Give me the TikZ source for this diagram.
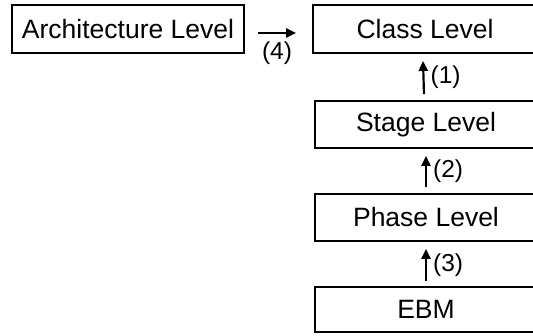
\documentclass[tikz,border=0pt]{standalone}
\usepackage{fontspec}
\setmainfont{Liberation Sans}
\usetikzlibrary{arrows.meta}
\begin{document}
\begin{tikzpicture}[x=1pt,y=-1pt,
  box/.style={draw, line width=1.8pt, rectangle, inner sep=0pt, font=\fontsize{26.5}{30}\selectfont},
  arr/.style={line width=2.2pt, -{Triangle[length=10pt,width=9pt]}},
  lab/.style={font=\fontsize{24.5}{28}\selectfont, inner sep=0pt}]
\useasboundingbox (0,0) rectangle (533,335);
\clip (0,0) rectangle (533,335);
\node[box, minimum width=232pt, minimum height=48pt] (arch) at (128,29) {Architecture Level};
\node[box, minimum width=224pt, minimum height=48pt] (class) at (425,29) {Class Level};
\node[box, minimum width=222pt, minimum height=47pt] (stage) at (426,124.5) {Stage Level};
\node[box, minimum width=222pt, minimum height=47pt] (phase) at (426,217.5) {Phase Level};
\node[box, minimum width=222pt, minimum height=45pt] (ebm) at (426,309.5) {EBM};
\draw[arr] ([xshift=13pt,yshift=-4pt]arch.east) -- node[lab, below=8pt] (l4) {(4)} ([xshift=-16pt,yshift=-4pt]class.west);
\draw[arr] ([xshift=-2pt,yshift=6pt]stage.north) -- node[lab, right=6pt] (l1) {(1)} ([xshift=-2pt,yshift=-7pt]class.south);
\draw[arr] ([yshift=6pt]phase.north) -- node[lab, right=6pt] (l2) {(2)} ([yshift=-7pt]stage.south);
\draw[arr] ([yshift=5pt]ebm.north) -- node[lab, right=6pt] (l3) {(3)} ([yshift=-7pt]phase.south);
\end{tikzpicture}
\end{document}
